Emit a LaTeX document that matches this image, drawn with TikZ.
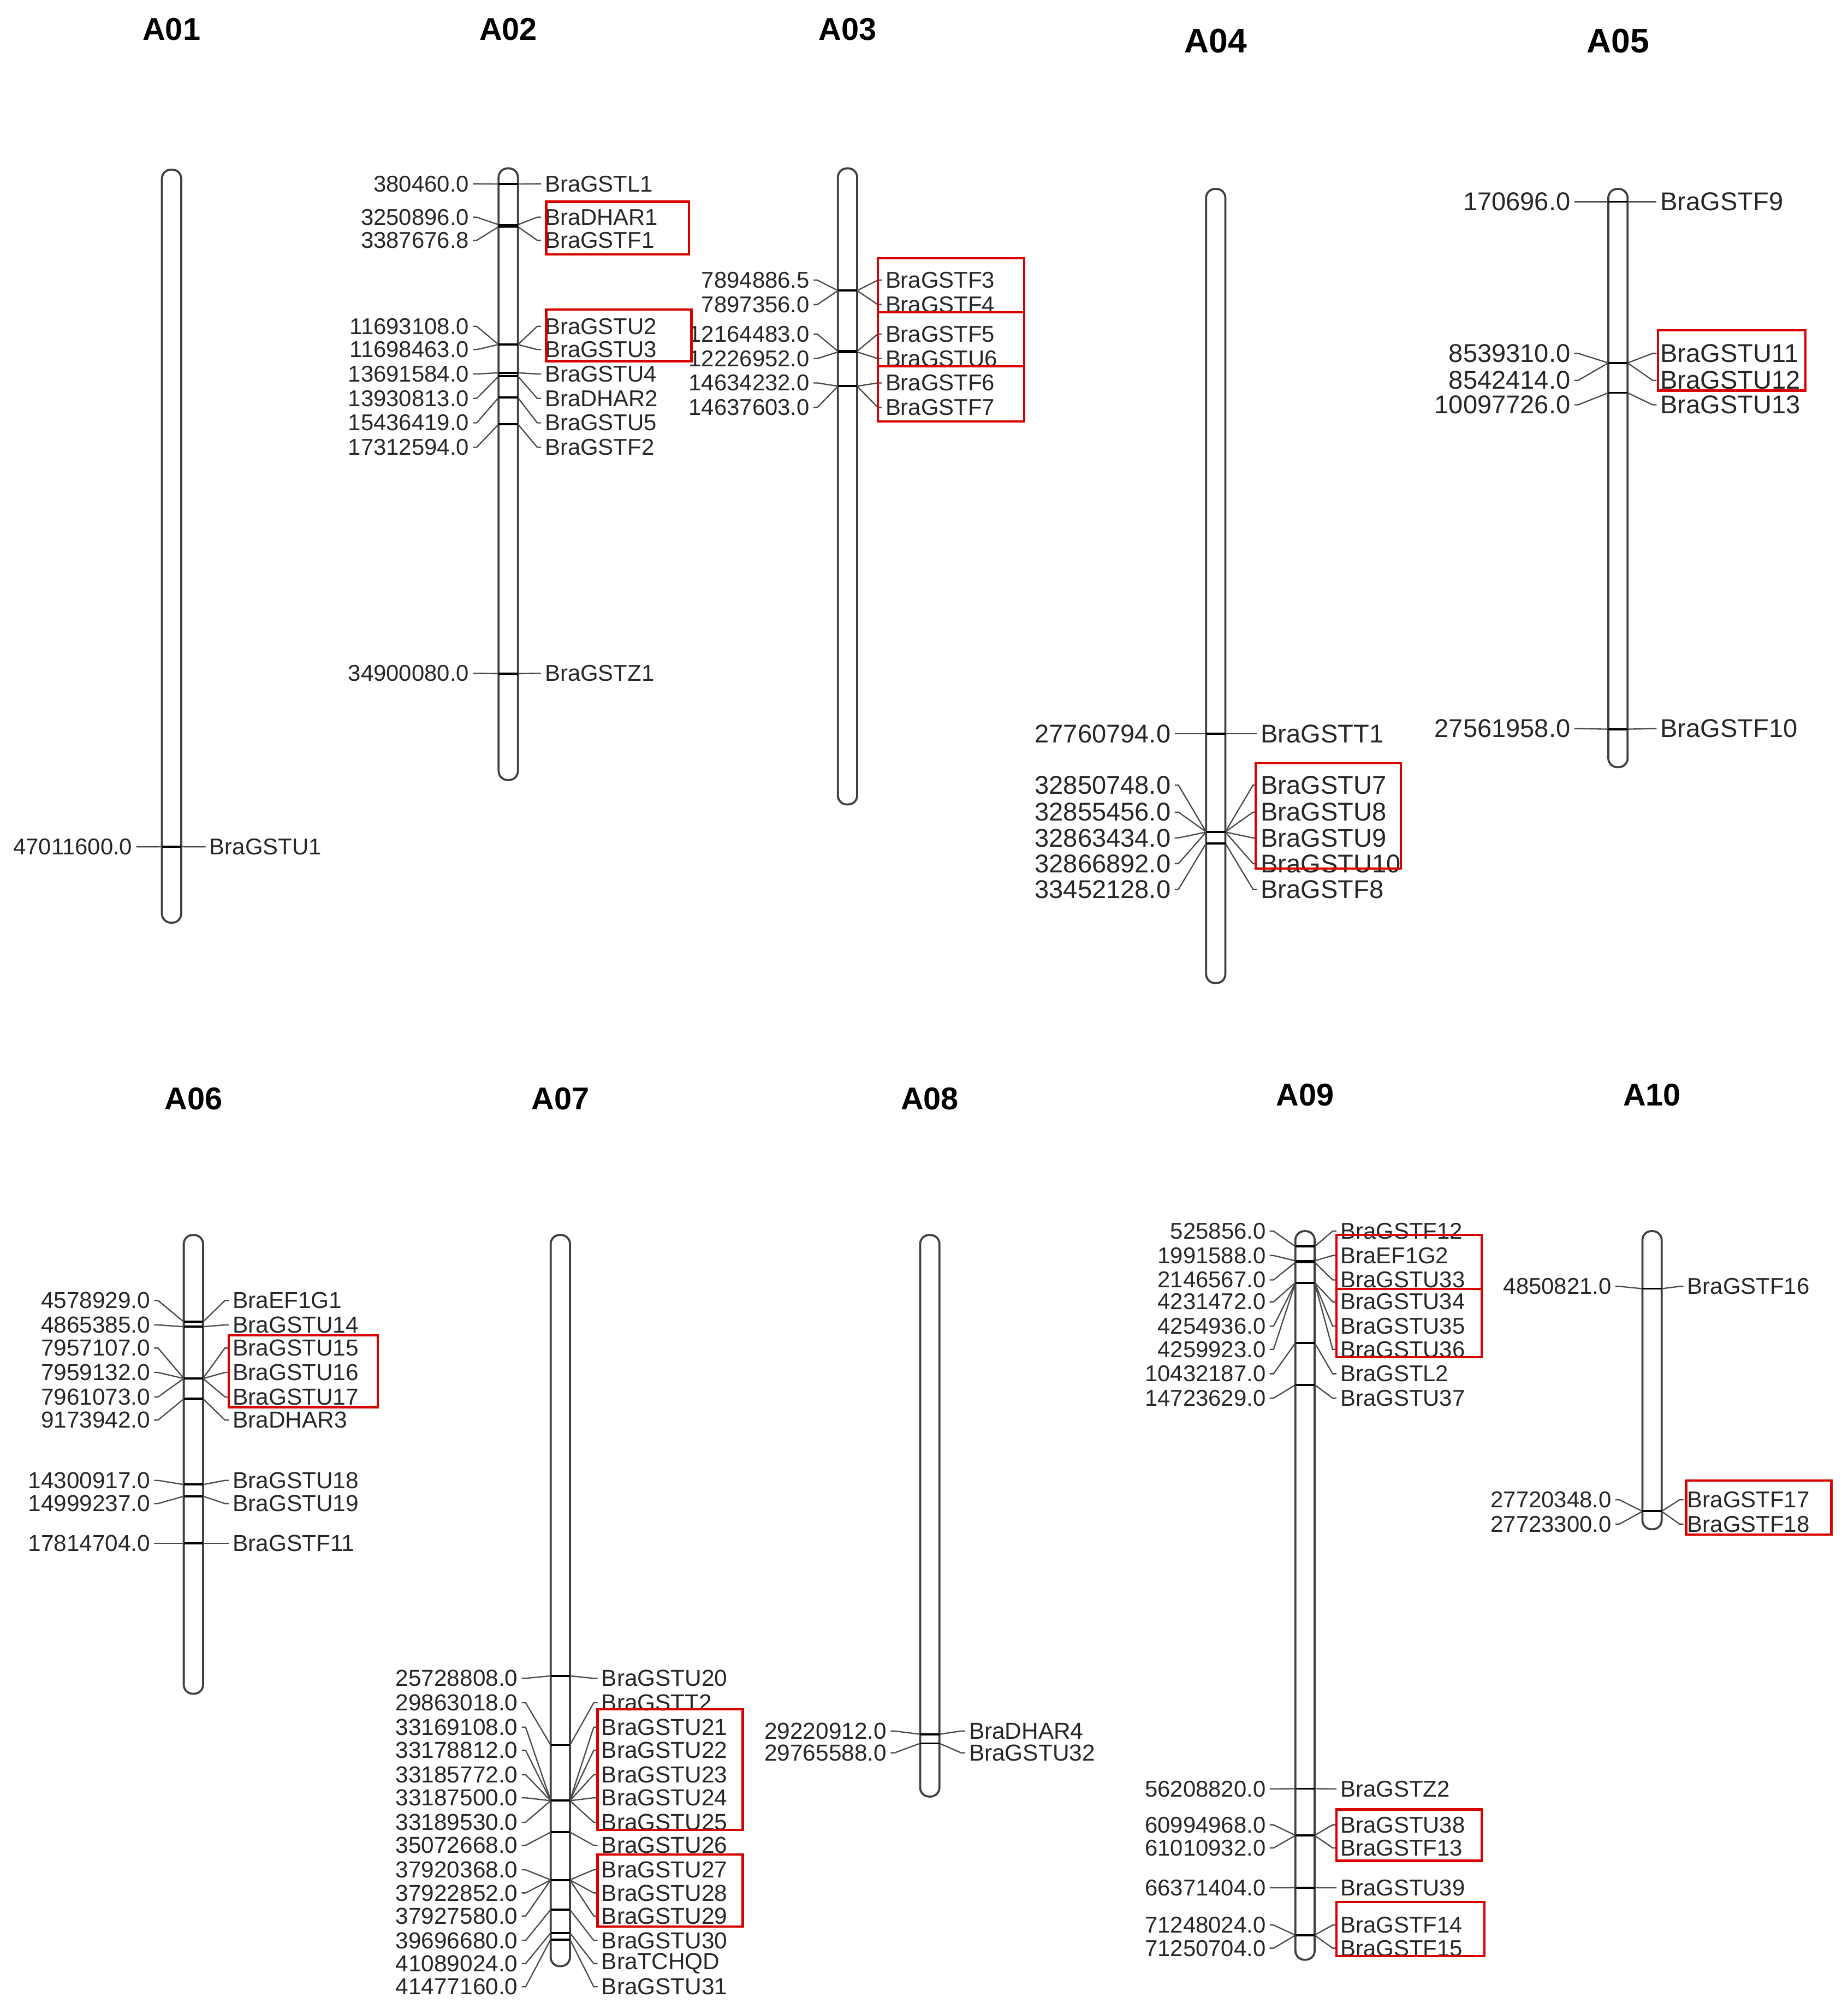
\documentclass[tikz,border=0pt]{standalone}
\usepackage{fontspec}
\setmainfont{Liberation Sans}
\begin{document}
\begin{tikzpicture}[x=1mm,y=-1mm,
  rod/.style={draw=black!75, line width=1.6mm, fill=white, rounded corners=7mm},
  conn/.style={draw=black!70, line width=1.0mm},
  mk/.style={draw=black, line width=1.6mm},
  lab/.style={inner sep=0pt, text=black!85, font=\fontsize{50.6}{60}\selectfont},
  ttl/.style={inner sep=0pt, font=\bfseries\fontsize{69.7}{80}\selectfont},
  redbox/.style={draw=red!85!black, line width=1.8mm}]
\useasboundingbox (0,0) rectangle (1438,1568);
\newcommand\gm[5]{% id, marker y, label y, number, gene
  \coordinate (L#1) at ({\cx-7.5},#2);
  \coordinate (R#1) at ({\cx+7.5},#2);
  \node[lab,anchor=east] (n#1) at (\nr,#3) {#4};
  \node[lab,anchor=west] (g#1) at (\gl,#3) {#5};
  \draw[conn] ([xshift=3mm]n#1.east) -- ++(3,0) -- (L#1);
  \draw[conn] ([xshift=-3mm]g#1.west) -- ++(-3,0) -- (R#1);
  \draw[mk] (L#1) -- (R#1);
}
\newcommand\rodd[2]{\draw[rod] ({\cx-7.5},#1) rectangle ({\cx+7.5},#2);}

% ---------- A01
\begin{scope}
\def\cx{133.5}\def\nr{103}\def\gl{163}
\node[ttl] (tA01) at (\cx,23) {A01};
\rodd{132}{718}
\gm{a1}{658.9}{659}{47011600.0}{BraGSTU1}
\end{scope}

% ---------- A02
\begin{scope}
\def\cx{395.5}\def\nr{365}\def\gl{424}
\node[ttl] (tA02) at (\cx,23) {A02};
\rodd{131}{607}
\gm{a2a}{143.2}{143}{380460.0}{BraGSTL1}
\gm{a2b}{174.9}{169}{3250896.0}{BraDHAR1}
\gm{a2c}{176.4}{187}{3387676.8}{BraGSTF1}
\gm{a2d}{268.1}{254}{11693108.0}{BraGSTU2}
\gm{a2e}{268.1}{272}{11698463.0}{BraGSTU3}
\gm{a2f}{290.1}{291}{13691584.0}{BraGSTU4}
\gm{a2g}{292.8}{310}{13930813.0}{BraDHAR2}
\gm{a2h}{309.4}{329}{15436419.0}{BraGSTU5}
\gm{a2i}{330.1}{348}{17312594.0}{BraGSTF2}
\gm{a2j}{524.2}{524}{34900080.0}{BraGSTZ1}
\end{scope}

% ---------- A03
\begin{scope}
\def\cx{659.5}\def\nr{630}\def\gl{689}
\node[ttl] (tA03) at (\cx,23) {A03};
\rodd{131}{626}
\gm{a3a}{226.1}{218}{7894886.5}{BraGSTF3}
\gm{a3b}{226.2}{237}{7897356.0}{BraGSTF4}
\gm{a3c}{273.3}{260}{12164483.0}{BraGSTF5}
\gm{a3d}{273.9}{279}{12226952.0}{BraGSTU6}
\gm{a3e}{300.5}{298}{14634232.0}{BraGSTF6}
\gm{a3f}{300.6}{317}{14637603.0}{BraGSTF7}
\end{scope}

% ---------- A04
\begin{scope}[lab/.append style={font=\fontsize{56.9}{68}\selectfont},
              ttl/.append style={font=\bfseries\fontsize{75.4}{86}\selectfont}]
\def\cx{946}\def\nr{911}\def\gl{981}
\node[ttl] (tA04) at (\cx,32) {A04};
\rodd{147}{765}
\gm{a4a}{571.0}{571}{27760794.0}{BraGSTT1}
\gm{a4b}{647.3}{611}{32850748.0}{BraGSTU7}
\gm{a4c}{647.3}{632}{32855456.0}{BraGSTU8}
\gm{a4d}{647.5}{652}{32863434.0}{BraGSTU9}
\gm{a4e}{647.5}{672}{32866892.0}{BraGSTU10}
\gm{a4f}{656.3}{692}{33452128.0}{BraGSTF8}
\end{scope}

% ---------- A05
\begin{scope}[lab/.append style={font=\fontsize{56.9}{68}\selectfont},
              ttl/.append style={font=\bfseries\fontsize{75.4}{86}\selectfont}]
\def\cx{1259}\def\nr{1222}\def\gl{1292}
\node[ttl] (tA05) at (\cx,32) {A05};
\rodd{147}{597}
\gm{a5a}{157}{157}{170696.0}{BraGSTF9}
\gm{a5b}{282.4}{275}{8539310.0}{BraGSTU11}
\gm{a5c}{282.4}{296}{8542414.0}{BraGSTU12}
\gm{a5d}{305.7}{315}{10097726.0}{BraGSTU13}
\gm{a5e}{567.4}{567}{27561958.0}{BraGSTF10}
\end{scope}

% ---------- A06
\begin{scope}[lab/.append style={font=\fontsize{51.2}{61}\selectfont}]
\def\cx{150.5}\def\nr{117}\def\gl{181}
\node[ttl] (tA06) at (\cx,855) {A06};
\rodd{961}{1318}
\gm{a6a}{1028.6}{1012}{4578929.0}{BraEF1G1}
\gm{a6b}{1032.4}{1031}{4865385.0}{BraGSTU14}
\gm{a6c}{1072.6}{1049}{7957107.0}{BraGSTU15}
\gm{a6d}{1072.7}{1068}{7959132.0}{BraGSTU16}
\gm{a6e}{1072.7}{1087}{7961073.0}{BraGSTU17}
\gm{a6f}{1088.5}{1105}{9173942.0}{BraDHAR3}
\gm{a6g}{1155.2}{1152}{14300917.0}{BraGSTU18}
\gm{a6h}{1164.3}{1170}{14999237.0}{BraGSTU19}
\gm{a6i}{1201.0}{1201}{17814704.0}{BraGSTF11}
\end{scope}

% ---------- A07
\begin{scope}[lab/.append style={font=\fontsize{51.2}{61}\selectfont}]
\def\cx{436}\def\nr{403}\def\gl{468}
\node[ttl] (tA07) at (\cx,855) {A07};
\rodd{961}{1530}
\gm{a7a}{1304.1}{1306}{25728808.0}{BraGSTU20}
\gm{a7b}{1357.9}{1325}{29863018.0}{BraGSTT2}
\gm{a7c}{1401.0}{1344}{33169108.0}{BraGSTU21}
\gm{a7d}{1401.1}{1362}{33178812.0}{BraGSTU22}
\gm{a7e}{1401.2}{1381}{33185772.0}{BraGSTU23}
\gm{a7f}{1401.2}{1399}{33187500.0}{BraGSTU24}
\gm{a7g}{1401.2}{1418}{33189530.0}{BraGSTU25}
\gm{a7h}{1425.7}{1436}{35072668.0}{BraGSTU26}
\gm{a7i}{1462.8}{1455}{37920368.0}{BraGSTU27}
\gm{a7j}{1462.9}{1473}{37922852.0}{BraGSTU28}
\gm{a7k}{1462.9}{1491}{37927580.0}{BraGSTU29}
\gm{a7l}{1486.0}{1510}{39696680.0}{BraGSTU30}
\gm{a7m}{1504.1}{1528}{41089024.0}{BraTCHQD}
\gm{a7n}{1509.2}{1546}{41477160.0}{BraGSTU31}
\end{scope}

% ---------- A08
\begin{scope}[lab/.append style={font=\fontsize{51.2}{61}\selectfont}]
\def\cx{723.5}\def\nr{690}\def\gl{754}
\node[ttl] (tA08) at (\cx,855) {A08};
\rodd{961}{1398}
\gm{a8a}{1349.5}{1347}{29220912.0}{BraDHAR4}
\gm{a8b}{1356.6}{1364}{29765588.0}{BraGSTU32}
\end{scope}

% ---------- A09
\begin{scope}[lab/.append style={font=\fontsize{50.6}{60}\selectfont}]
\def\cx{1015.5}\def\nr{985}\def\gl{1043}
\node[ttl] (tA09) at (\cx,852) {A09};
\rodd{958}{1525}
\gm{a9a}{970.0}{958}{525856.0}{BraGSTF12}
\gm{a9b}{981.1}{977}{1991588.0}{BraEF1G2}
\gm{a9c}{982.3}{996}{2146567.0}{BraGSTU33}
\gm{a9d}{998.1}{1013}{4231472.0}{BraGSTU34}
\gm{a9e}{998.2}{1032}{4254936.0}{BraGSTU35}
\gm{a9f}{998.3}{1050}{4259923.0}{BraGSTU36}
\gm{a9g}{1045.0}{1069}{10432187.0}{BraGSTL2}
\gm{a9h}{1077.6}{1088}{14723629.0}{BraGSTU37}
\gm{a9i}{1391.9}{1392}{56208820.0}{BraGSTZ2}
\gm{a9j}{1428.2}{1420}{60994968.0}{BraGSTU38}
\gm{a9k}{1428.3}{1438}{61010932.0}{BraGSTF13}
\gm{a9l}{1468.9}{1469}{66371404.0}{BraGSTU39}
\gm{a9m}{1505.8}{1498}{71248024.0}{BraGSTF14}
\gm{a9n}{1505.9}{1516}{71250704.0}{BraGSTF15}
\end{scope}

% ---------- A10
\begin{scope}[lab/.append style={font=\fontsize{50.6}{60}\selectfont}]
\def\cx{1285.5}\def\nr{1254}\def\gl{1313}
\node[ttl] (tA10) at (\cx,852) {A10};
\rodd{958}{1190}
\gm{a10a}{1002.8}{1001}{4850821.0}{BraGSTF16}
\gm{a10b}{1176.0}{1167}{27720348.0}{BraGSTF17}
\gm{a10c}{1176.1}{1186}{27723300.0}{BraGSTF18}
\end{scope}

% ---------- red boxes
\draw[redbox] (425,157) rectangle (536,198);
\draw[redbox] (425,241) rectangle (538,281);
\draw[redbox] (683,201) rectangle (797,243);
\draw[redbox] (683,243) rectangle (797,285);
\draw[redbox] (683,285) rectangle (797,328);
\draw[redbox] (977,594) rectangle (1090,676);
\draw[redbox] (1290,257) rectangle (1405,304);
\draw[redbox] (178,1039) rectangle (294,1095);
\draw[redbox] (465,1330) rectangle (578,1424);
\draw[redbox] (465,1443) rectangle (578,1499);
\draw[redbox] (1040,961) rectangle (1153,1003);
\draw[redbox] (1040,1003) rectangle (1153,1056);
\draw[redbox] (1040,1408) rectangle (1153,1448);
\draw[redbox] (1040,1480) rectangle (1155,1522);
\draw[redbox] (1312,1152) rectangle (1425,1194);
\end{tikzpicture}
\end{document}
